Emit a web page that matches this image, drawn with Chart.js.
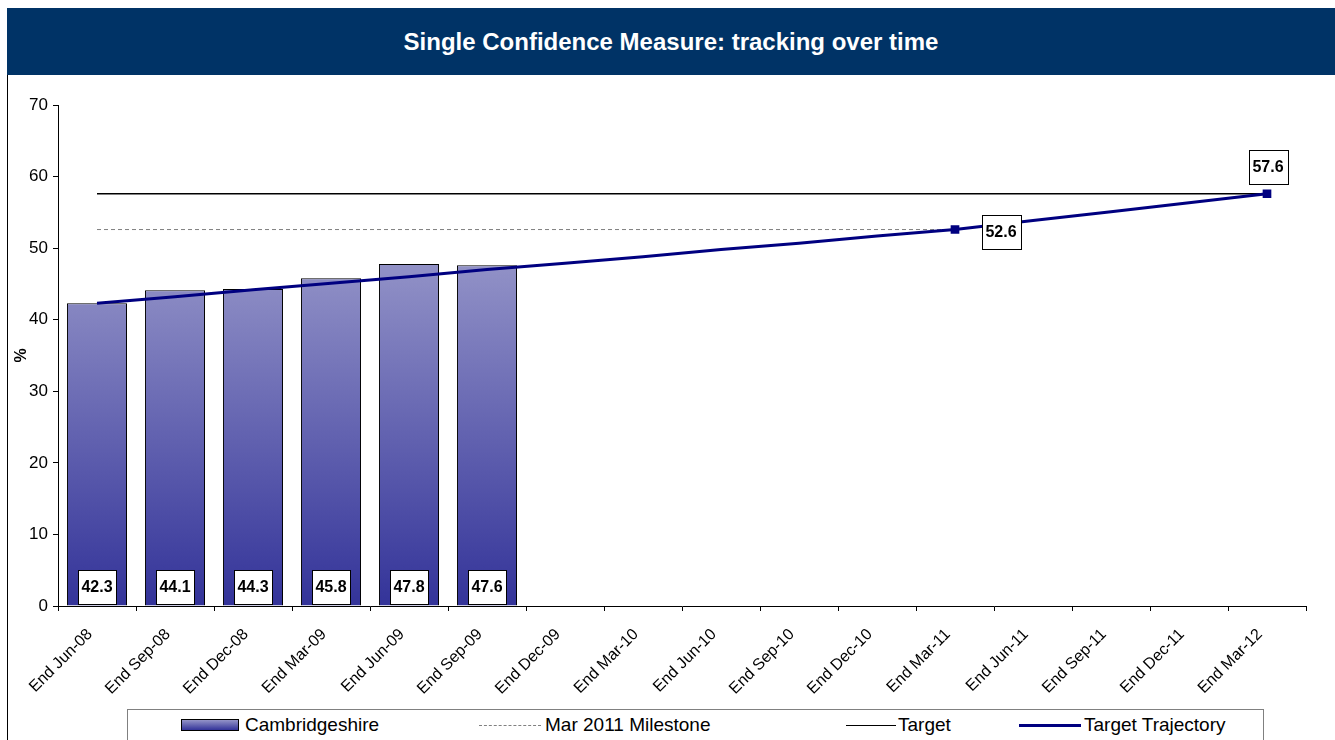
<!DOCTYPE html>
<html>
<head>
<meta charset="utf-8">
<script src="https://cdn.jsdelivr.net/npm/chart.js@4/dist/chart.umd.min.js"></script>
<style>
  html, body { margin: 0; padding: 0; background: #fff; }
  body { width: 1335px; height: 740px; position: relative; overflow: hidden; font-family: "Liberation Sans", Arial, sans-serif; }
  #banner { position: absolute; left: 7px; top: 8px; width: 1328px; height: 67px; background: #003366; color: #fff;
    font-weight: bold; font-size: 24px; line-height: 67px; text-align: center; }
  #leftLine { position: absolute; left: 7px; top: 75px; width: 1px; height: 665px; background: #000; }
  #wrap { position: absolute; left: 9px; top: 76px; width: 1326px; height: 630px; }
  #legend { position: absolute; left: 127px; top: 709px; width: 1137px; height: 40px; border: 1px solid #808080; box-sizing: border-box; font-size: 19px; }
  .item { position: absolute; top: 4px; height: 22px; line-height: 22px; }
  .sw { position: absolute; }
</style>
</head>
<body>
<div id="banner">Single Confidence Measure: tracking over time</div>
<div id="leftLine"></div>
<div id="wrap"><canvas id="c"></canvas></div>
<div id="legend">
  <div class="sw" style="left:53px;top:9px;width:58px;height:12px;border:1px solid #000;box-sizing:border-box;background:linear-gradient(#9494c8,#333399);"></div>
  <div class="item" style="left:117px;">Cambridgeshire</div>
  <div class="sw" style="left:351px;top:15px;width:62px;border-top:1px dashed #808080;"></div>
  <div class="item" style="left:417px;">Mar 2011 Milestone</div>
  <div class="sw" style="left:718px;top:15px;width:50px;border-top:1px solid #000;"></div>
  <div class="item" style="left:770px;">Target</div>
  <div class="sw" style="left:891px;top:14px;width:62px;border-top:3px solid #000080;"></div>
  <div class="item" style="left:956px;">Target Trajectory</div>
</div>
<script>
// categories (quarters)
const labels = ["End Jun-08", "End Sep-08", "End Dec-08", "End Mar-09", "End Jun-09", "End Sep-09",
  "End Dec-09", "End Mar-10", "End Jun-10", "End Sep-10", "End Dec-10", "End Mar-11",
  "End Jun-11", "End Sep-11", "End Dec-11", "End Mar-12"];

// actual values
const cambs = [42.3, 44.1, 44.3, 45.8, 47.8, 47.6, null, null, null, null, null, null, null, null, null, null];

// trajectory
const trajectory = [42.3, 43.2, 44.2, 45.1, 46.0, 47.0, 47.9, 48.8, 49.8, 50.7, 51.7, 52.6, 53.85, 55.1, 56.35, 57.6];
const trajMarkers = [0, 0, 0, 0, 0, 0, 0, 0, 0, 0, 0, 4, 0, 0, 0, 4];

// milestone runs to Mar-11, target runs the full width
const milestone = [52.6, 52.6, 52.6, 52.6, 52.6, 52.6, 52.6, 52.6, 52.6, 52.6, 52.6, 52.6, null, null, null, null];
const target = [57.6, 57.6, 57.6, 57.6, 57.6, 57.6, 57.6, 57.6, 57.6, 57.6, 57.6, 57.6, 57.6, 57.6, 57.6, 57.6];

const yTicks = [0, 10, 20, 30, 40, 50, 60, 70];

const FONT = "'Liberation Sans', Arial, sans-serif";

function barGradient(ctx) {
  const area = ctx.chart.chartArea;
  if (!area) return "#6666b0";
  const g = ctx.chart.ctx.createLinearGradient(0, area.top + 150, 0, area.bottom);
  g.addColorStop(0, "#9494c8");
  g.addColorStop(1, "#333399");
  return g;
}

function boxLabel(ctx, text, cx, cy, w, h) {
  ctx.save();
  ctx.fillStyle = "#fff";
  ctx.strokeStyle = "#000";
  ctx.lineWidth = 1;
  ctx.fillRect(Math.round(cx - w / 2) + 0.5, Math.round(cy - h / 2) + 0.5, w, h);
  ctx.strokeRect(Math.round(cx - w / 2) + 0.5, Math.round(cy - h / 2) + 0.5, w, h);
  ctx.fillStyle = "#000";
  ctx.font = "bold 16px " + FONT;
  ctx.textAlign = "center";
  ctx.textBaseline = "middle";
  ctx.fillText(text, cx, cy + 1);
  ctx.restore();
}

const labelPlugin = {
  id: "boxLabels",
  afterDatasetsDraw(chart) {
    const ctx = chart.ctx;
    const bars = chart.getDatasetMeta(3).data;
    const yBase = chart.scales.y.getPixelForValue(0);
    bars.forEach((b, i) => {
      if (cambs[i] == null) return;
      boxLabel(ctx, cambs[i].toFixed(1), b.x, yBase - 19, 38, 34);
    });
    const pts = chart.getDatasetMeta(0).data;
    const p1 = pts[11], p2 = pts[15];
    boxLabel(ctx, trajectory[11].toFixed(1), p1.x + 46, p1.y + 2, 39, 34);
    boxLabel(ctx, trajectory[15].toFixed(1), p2.x + 1, p2.y - 27, 39, 34);
  }
};

new Chart(document.getElementById("c"), {
  data: {
    labels: labels,
    datasets: [
      {
        type: "line", label: "Target Trajectory", data: trajectory,
        borderColor: "#000080", borderWidth: 3, pointStyle: "rect",
        pointRadius: trajMarkers, pointBackgroundColor: "#000080", pointBorderColor: "#000080",
        tension: 0, order: 0
      },
      {
        type: "line", label: "Target", data: target,
        borderColor: "#000", borderWidth: 1.3, pointRadius: 0, order: 1
      },
      {
        type: "line", label: "Mar 2011 Milestone", data: milestone,
        borderColor: "#808080", borderWidth: 1, borderDash: [4, 3], pointRadius: 0, order: 2
      },
      {
        type: "bar", label: "Cambridgeshire", data: cambs,
        backgroundColor: barGradient, borderColor: "#000", borderWidth: 1,
        barPercentage: 0.77, categoryPercentage: 1, order: 3
      }
    ]
  },
  options: {
    responsive: true,
    maintainAspectRatio: false,
    animation: false,
    layout: { padding: { left: 0, right: 29, top: 29, bottom: 0 } },
    plugins: { legend: { display: false }, tooltip: { enabled: false } },
    scales: {
      x: {
        offset: true,
        afterFit: (s) => { s.height = 100; },
        grid: { display: true, offset: true, drawOnChartArea: false, color: "#000", tickLength: 5 },
        border: { color: "#000", width: 1 },
        ticks: { color: "#000", maxRotation: 45, minRotation: 45, autoSkip: false, padding: 14, labelOffset: -7,
          font: { family: FONT, size: 16 } }
      },
      y: {
        min: 0, max: 70,
        afterBuildTicks: (s) => { s.ticks = yTicks.map(v => ({ value: v })); },
        afterFit: (s) => { s.width = 49; },
        grid: { display: true, drawOnChartArea: false, color: "#000", tickLength: 5 },
        border: { color: "#000", width: 1 },
        title: { display: true, text: "%", color: "#000", padding: { top: 3, bottom: 0 },
          font: { family: FONT, size: 16, weight: "bold" } },
        ticks: { color: "#000", padding: 5,
          font: { family: FONT, size: 17 } }
      }
    }
  },
  plugins: [labelPlugin]
});
</script>
</body>
</html>
